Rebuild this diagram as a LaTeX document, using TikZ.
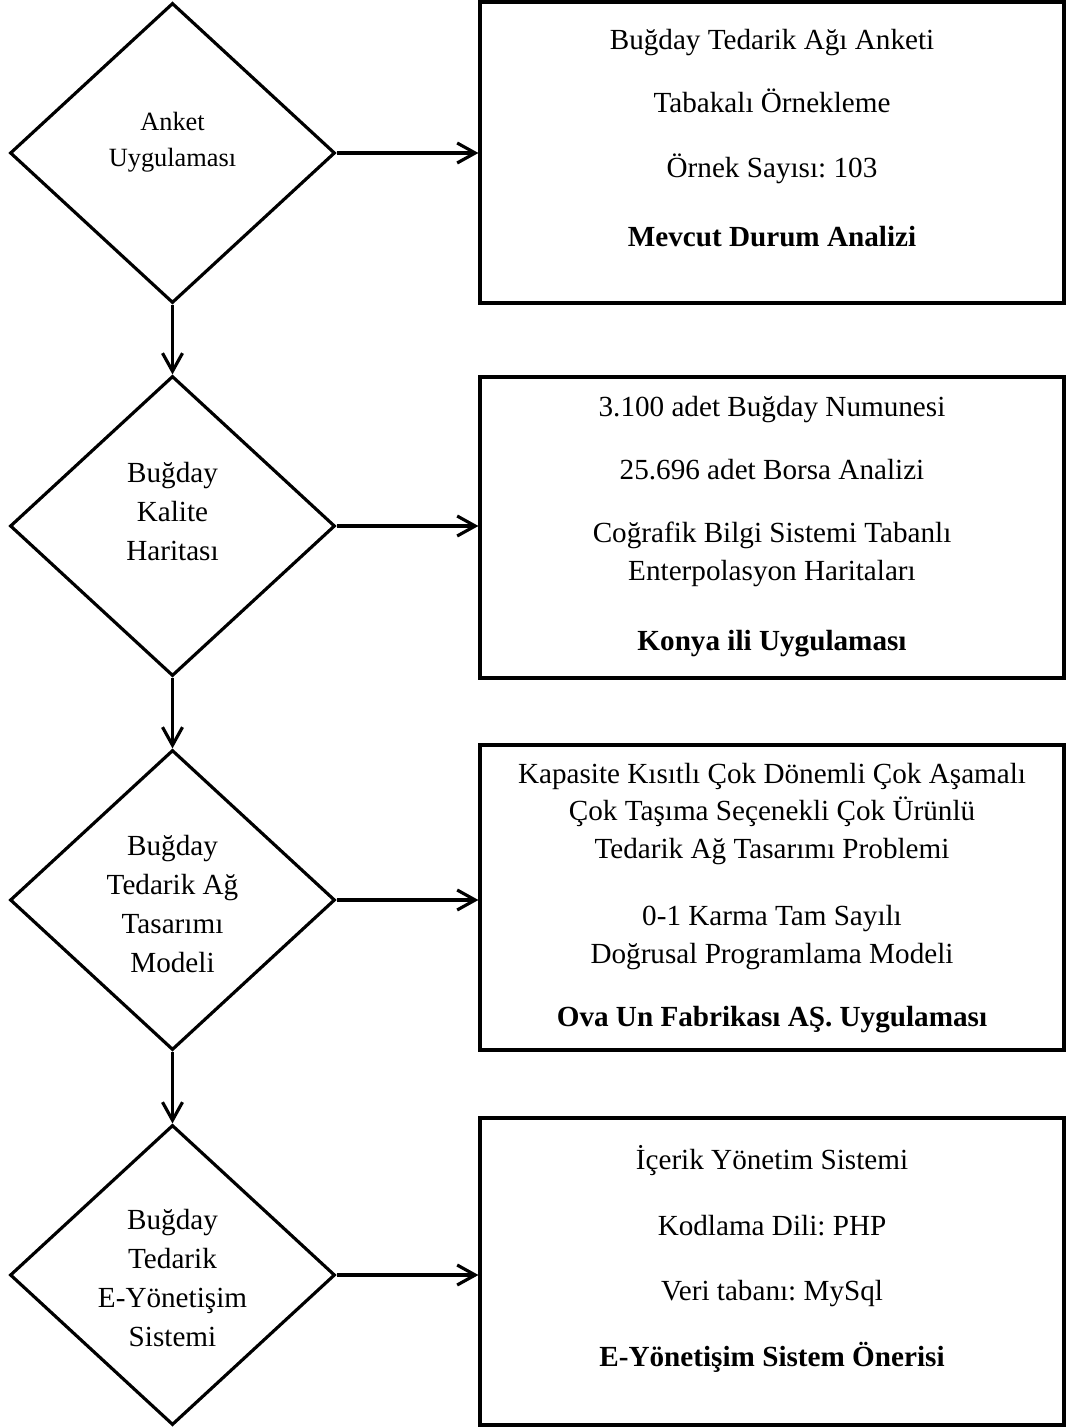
\documentclass[tikz,border=0pt]{standalone}
\usepackage{fontspec}
\setmainfont{Liberation Serif}
\usepackage{tikz}
\usetikzlibrary{shapes.geometric,arrows.meta}
\frenchspacing

\begin{document}
\begin{tikzpicture}[
    dmd/.style={diamond,draw,line width=0.9pt,minimum width=3.25cm,minimum height=3cm,inner sep=0pt},
    box/.style={rectangle,draw,line width=0.9pt,minimum width=5.84cm,inner sep=0pt},
    txt/.style={align=center,font=\fontsize{8.3}{10.8}\selectfont},
    dtxt/.style={align=center,font=\fontsize{8.3}{11.1}\selectfont},
    arr/.style={-{Straight Barb[length=1.8mm,width=2mm]},line width=0.9pt}]
  \useasboundingbox (0,0) rectangle (10.7,-14.27);
  % left column
  \node[dmd] (d1) at (1.725,-1.53)  {};
  \node[dmd] (d2) at (1.725,-5.26)  {};
  \node[dmd] (d3) at (1.725,-9.00)  {};
  \node[dmd] (d4) at (1.725,-12.75) {};
  \node[dtxt,font=\fontsize{7.5}{10.2}\selectfont] (d1t) at (1.725,-1.42) {Anket\\Uygulaması};
  \node[dtxt] (d2t) at (1.725,-5.12)  {Buğday\\Kalite\\Haritası};
  \node[dtxt] (d3t) at (1.725,-9.04)  {Buğday\\Tedarik Ağ\\Tasarımı\\Modeli};
  \node[dtxt] (d4t) at (1.725,-12.78) {Buğday\\Tedarik\\E-Yönetişim\\Sistemi};
  % right column
  \node[box,minimum height=3.01cm] (r1) at (7.72,-1.525)  {};
  \node[box,minimum height=3.01cm] (r2) at (7.72,-5.275)  {};
  \node[box,minimum height=3.05cm] (r3) at (7.72,-8.975)  {};
  \node[box,minimum height=3.07cm] (r4) at (7.72,-12.715) {};
  \node[txt] (r1t) at (7.72,-1.385) {Buğday Tedarik Ağı Anketi\\[0.25cm]
    Tabakalı Örnekleme\\[0.27cm] Örnek Sayısı: 103\\[0.31cm]
    \textbf{Mevcut Durum Analizi}};
  \node[txt] (r2t) at (7.72,-5.27) {3.100 adet Buğday Numunesi\\[0.25cm]
    25.696 adet Borsa Analizi\\[0.25cm] Coğrafik Bilgi Sistemi Tabanlı\\
    Enterpolasyon Haritaları\\[0.32cm] \textbf{Konya ili Uygulaması}};
  \node[txt] (r3t) at (7.72,-8.98) {Kapasite Kısıtlı Çok Dönemli Çok Aşamalı\\
    Çok Taşıma Seçenekli Çok Ürünlü\\ Tedarik Ağ Tasarımı Problemi\\[0.29cm]
    0-1 Karma Tam Sayılı\\ Doğrusal Programlama Modeli\\[0.25cm]
    \textbf{Ova Un Fabrikası AŞ. Uygulaması}};
  \node[txt] (r4t) at (7.72,-12.59) {İçerik Yönetim Sistemi\\[0.28cm]
    Kodlama Dili: PHP\\[0.27cm] Veri tabanı: MySql\\[0.28cm]
    \textbf{E-Yönetişim Sistem Önerisi}};
  % connectors
  \foreach \i in {1,...,4}
    \draw[arr] (d\i.east) -- (d\i.east -| r\i.west);
  \foreach \i/\j in {1/2,2/3,3/4}
    \draw[arr] (d\i.south) -- (d\j.north);
\end{tikzpicture}
\end{document}
